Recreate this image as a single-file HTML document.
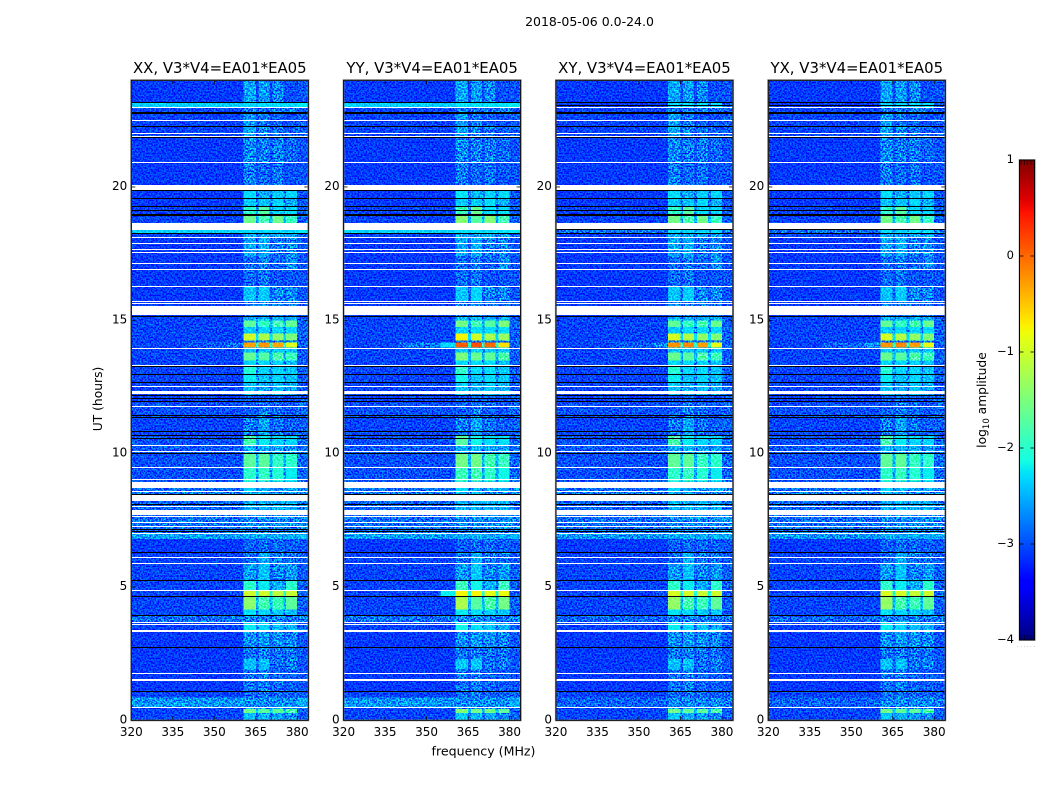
<!DOCTYPE html>
<html lang="en">
<head>
<meta charset="utf-8">
<title>2018-05-06 0.0-24.0</title>
<style>
  html, body { margin: 0; padding: 0; background: #fff; }
  svg { display: block; font-family: "DejaVu Sans", "Liberation Sans", sans-serif; }
  .tick-label { font-size: 12px; fill: #000; }
  .panel-title { font-size: 14.9px; fill: #000; text-anchor: middle; }
</style>
</head>
<body>
<svg id="chart" xmlns="http://www.w3.org/2000/svg" width="1050" height="800" viewBox="0 0 1050 800">
  <defs>
    <filter id="speckle" x="0" y="0" width="100%" height="100%" color-interpolation-filters="sRGB">
      <feTurbulence type="fractalNoise" baseFrequency="0.62" numOctaves="1" seed="7"/>
      <feColorMatrix type="matrix" values="3.4 0 0 0 -1.2  3.4 0 0 0 -1.2  3.4 0 0 0 -1.2  0 0 0 0 1"/>
    </filter>
    <linearGradient id="jet-gradient" x1="0" y1="1" x2="0" y2="0"></linearGradient>
  </defs>
  <rect x="0" y="0" width="1050" height="800" fill="#fff"/>
  <text x="589.5" y="26" font-size="12.5" text-anchor="middle">2018-05-06 0.0-24.0</text>
  <text x="483.5" y="755.5" font-size="12.6" text-anchor="middle">frequency (MHz)</text>
  <text x="102" y="399" font-size="12.3" text-anchor="middle" transform="rotate(-90 102 399)">UT (hours)</text>
  <text x="986" y="400" font-size="12.3" text-anchor="middle" transform="rotate(-90 986 400)">log<tspan font-size="8.5" dy="3">10</tspan><tspan dy="-3"> amplitude</tspan></text>
  <g id="panels"></g>
  <g id="colorbar"></g>
</svg>
<script>
// ---- categories and tick labels ----
const polarizations = ["XX", "YY", "XY", "YX"];
const panelTitles = ["XX, V3*V4=EA01*EA05", "YY, V3*V4=EA01*EA05", "XY, V3*V4=EA01*EA05", "YX, V3*V4=EA01*EA05"];
const freqTicks = [320, 335, 350, 365, 380];
const hourTicks = [0, 5, 10, 15, 20];
const colorTicks = [1, 0, -1, -2, -3, -4];
const colorTickLabels = ["1", "0", "\u22121", "\u22122", "\u22123", "\u22124"];

// ---- UT row boundaries (hours) ----
const rowEdges = [0,.27,.42,.5,.85,1.07,1.9,2.3,2.75,3.35,3.67,3.92,4.15,4.65,4.85,5.23,5.87,6.31,6.79,7.01,7.25,7.7,8.3,8.6,8.95,9.5,10,10.3,10.7,11.35,11.9,12.2,12.65,13,13.3,13.5,13.8,13.98,14.17,14.25,14.5,14.75,15,15.15,15.7,16.26,16.9,17.4,18.1,18.28,18.38,18.64,18.95,19.27,19.56,19.87,20.9,21.9,22.3,22.8,22.97,23.15,24];

// ---- log10 amplitude per row: background for co-pol (XX, YY) and cross-pol (XY, YX) ----
const backgroundCo = [-3.05,-3.05,-3.05,-2.65,-3.05,-3.1,-3.1,-3.1,-3.1,-3.05,-2.85,-3.05,-3.05,-3.05,-3.05,-3.05,-3.05,-3.1,-2.6,-2.85,-2.85,-2.9,-2.8,-2.85,-3,-3,-2.95,-3,-3.05,-3,-3.05,-3.05,-3.05,-3.05,-3.05,-3.05,-3.05,-3.05,-3.05,-3.05,-3.05,-3.05,-3.05,-3.1,-3.1,-3.1,-3.1,-3.1,-3.05,-2.35,-3.05,-3.05,-3.05,-3.1,-3.1,-3.1,-3.1,-3.05,-3.05,-3.05,-2.35,-3.1];
const backgroundCross = [-3.05,-3.05,-3.05,-2.9,-3.05,-3.1,-3.1,-3.1,-3.1,-3.05,-2.9,-3.05,-3.05,-3.05,-3.05,-3.05,-3.05,-3.1,-2.65,-2.85,-2.85,-2.9,-2.8,-2.85,-3,-3,-2.95,-3,-3.05,-3,-3.05,-3.05,-3.05,-3.05,-3.05,-3.05,-3.05,-3.05,-3.05,-3.05,-3.05,-3.05,-3.05,-3.1,-3.1,-3.1,-3.1,-3.1,-3.05,-2.85,-3.05,-3.05,-3.05,-3.1,-3.1,-3.1,-3.1,-3.05,-3.05,-3.05,-3.1,-3.1];

// ---- log10 amplitude per row in the four bright sub-bands ----
const subband1 = [-2.42,-1.6,-2.72,-2.7,-2.87,-2.82,-2.42,-2.82,-2.67,-2.22,-2.75,-2.27,-1.4,-1,-2,-2.62,-2.87,-2.92,-2.55,-2.75,-2.7,-2.5,-2.5,-2.32,-2,-1.7,-2.52,-1.85,-2.77,-2.92,-2.95,-2.42,-2.22,-2.05,-2.32,-1.65,-2.4,-0.3,-2.8,-1,-2.37,-1.7,-2.5,-2.8,-2.42,-2.87,-2.87,-2.57,-2.55,-2.3,-2.7,-1.6,-2,-2.4,-2.3,-2.77,-2.72,-2.57,-2.62,-2.8,-2.3,-2.57];
const subband2 = [-2.52,-1.7,-2.72,-2.7,-2.82,-2.77,-2.42,-2.77,-2.62,-2.32,-2.75,-2.32,-1.85,-1,-2.22,-2.42,-2.52,-2.87,-2.55,-2.75,-2.7,-2.5,-2.5,-2.52,-1.95,-1.7,-2.52,-2.22,-2.57,-2.77,-2.92,-2.52,-2.42,-2.32,-2.32,-1.75,-2.4,-0.25,-2.8,-1.2,-2.32,-1.95,-2.5,-2.8,-2.37,-2.82,-2.77,-2.52,-2.62,-2.3,-2.7,-1.85,-1.75,-2.4,-2.52,-2.87,-2.77,-2.72,-2.82,-2.8,-2.3,-2.62];
const subband3 = [-2.57,-1.7,-2.72,-2.7,-2.87,-2.87,-2.82,-2.82,-2.67,-2.42,-2.75,-2.37,-1.9,-1.1,-2.52,-2.72,-2.77,-2.87,-2.55,-2.75,-2.7,-2.5,-2.7,-2.62,-2.05,-1.95,-2.57,-2.32,-2.82,-2.87,-2.97,-2.42,-2.32,-2.32,-2.32,-1.8,-2.4,-0.35,-2.8,-1.4,-2.32,-1.85,-2.5,-2.8,-2.72,-2.97,-2.87,-2.77,-2.52,-2.3,-2.7,-1.6,-2.32,-2.32,-2.37,-2.82,-2.77,-2.82,-2.92,-2.8,-2.3,-2.72];
const subband4 = [-2.67,-1.8,-2.72,-2.7,-2.92,-2.92,-2.77,-2.82,-2.72,-2.52,-2.8,-2.42,-1.7,-1.05,-2,-2.62,-2.82,-2.92,-2.55,-2.75,-2.7,-2.5,-2.7,-2.52,-2.22,-2,-2.62,-2.32,-2.92,-2.97,-3,-2.52,-2.42,-2.42,-2.42,-1.9,-2.4,-0.9,-2.8,-1.5,-2.32,-1.65,-2.5,-2.8,-2.72,-2.97,-2.67,-2.72,-2.57,-2.3,-2.7,-1.95,-2.32,-2.52,-2.32,-2.97,-2.87,-2.92,-3,-2.8,-2.3,-3];

// ---- per-polarization brightening of strong emission (log10 at the hottest rows) ----
const polHotOffset = [0, 0.25, 0.05, 0.05];

// ---- frequency channel groups (MHz) ----
const freqEdges = [320, 340, 355, 360.5, 365, 366, 370, 371, 375, 376, 380, 384];
const freqKinds = ["bg", "bg", "bg", "b1", "gap", "b2", "gap", "b3", "gap", "b4", "edge"];

// ---- narrow interference shoulders below the bright band ----
const streakStart = [13.98, 4.65];
const streakEnd = [14.17, 4.85];
const streakShoulder = [[-2.8, -2.3, -2.7, -2.6], [-3.0, -2.2, -3.0, -3.0]];
const streakWing = [[-2.95, -2.8, -2.95, -2.9], [-3.1, -3.05, -3.1, -3.1]];

// ---- flagged (no data) time ranges, hours ----
const whiteStart = [.45,1.5,1.73,3.33,3.56,3.65,4.83,5.85,6.08,6.99,7.23,7.39,7.6,7.71,7.98,8.25,8.57,8.72,9.02,9.45,10.07,10.27,11.73,12.23,12.49,13.3,13.92,15.18,15.6,15.68,16.24,16.88,17.11,17.54,17.63,17.85,18.08,18.38,19.87,20.88,21.86,22,22.47,22.95];
const whiteEnd = [.49,1.56,1.77,3.39,3.6,3.69,4.88,5.89,6.12,7.03,7.27,7.43,7.65,7.9,8.03,8.46,8.61,8.94,9.06,9.49,10.11,10.31,11.77,12.33,12.53,13.34,13.97,15.52,15.64,15.72,16.28,16.92,17.15,17.58,17.67,17.89,18.12,18.64,20.06,20.92,21.92,22.03,22.51,22.99];
const blackStart = [1.06,2.7,3.9,4.63,5.21,6.29,7.07,7.13,8.06,8.46,9.98,10.55,10.67,10.79,11.33,11.42,11.92,12.05,12.17,12.63,12.95,13.26,15.13,18.24,18.92,19.1,19.25,19.54,19.83,21.82,22.23,22.74,23.15];
const blackEnd = [1.09,2.74,3.94,4.67,5.25,6.33,7.1,7.17,8.11,8.49,10.03,10.59,10.71,10.83,11.37,11.46,11.96,12.09,12.21,12.67,12.99,13.3,15.17,18.28,19,19.14,19.29,19.58,19.87,21.86,22.27,22.8,23.2];
const crossBlackStart = [23.04, 18.4];
const crossBlackEnd = [23.08, 18.44];

// ---- layout and axis functions ----
const NS = "http://www.w3.org/2000/svg";
const PLOT_TOP = 80.3, PLOT_H = 640, PLOT_W = 177;
const HOT_LEVEL = -1.75;
const panelsGroup = document.getElementById("panels");
const barGroup = document.getElementById("colorbar");
function panelLeft(p) { return 131.3 + 212.33 * p; }
function xScale(p, mhz) { return panelLeft(p) + (mhz - 320) / 64 * PLOT_W; }
function yScale(hour) { return PLOT_TOP + PLOT_H - hour / 24 * PLOT_H; }
function colorScale(v) { return 160 + (1 - v) / 5 * 480; }

function ramp(t, pts) {
  for (let i = 1; i < pts.length; i++) {
    if (t <= pts[i][0]) {
      const a = pts[i - 1], b = pts[i];
      return a[1] + (b[1] - a[1]) * (t - a[0]) / (b[0] - a[0]);
    }
  }
  return pts[pts.length - 1][1];
}
function jet(t) {
  t = Math.max(0, Math.min(1, t));
  const r = ramp(t, [[0, 0], [.35, 0], [.66, 1], [.89, 1], [1, .5]]);
  const g = ramp(t, [[0, 0], [.125, 0], [.375, 1], [.64, 1], [.91, 0], [1, 0]]);
  const b = ramp(t, [[0, .5], [.11, 1], [.34, 1], [.65, 0], [1, 0]]);
  return "rgb(" + Math.round(r * 255) + "," + Math.round(g * 255) + "," + Math.round(b * 255) + ")";
}
function levelColor(v) { return jet((v + 4) / 5); }
function svgEl(tag, parent) {
  const el = document.createElementNS(NS, tag);
  parent.appendChild(el);
  return el;
}
function setAll(el, attrs) { for (const k in attrs) el.setAttribute(k, attrs[k]); }

function boosted(level, p) {
  return level + polHotOffset[p] * Math.max(0, level + 2.6) / 1.6;
}
function cellLevel(p, row, kind) {
  const bg = (p < 2 ? backgroundCo : backgroundCross)[row];
  const bands = [subband1[row], subband2[row], subband3[row], subband4[row]];
  if (kind === "bg") return bg;
  if (kind === "edge") return bg + 0.12;
  if (kind === "gap") return Math.min(...bands) * 0.5 + bg * 0.5;
  return boosted(bands[Number(kind[1]) - 1], p);
}

polarizations.forEach(function (pol, p) {
  const g = svgEl("g", panelsGroup);
  
  

  // heatmap cells
  for (let row = 0; row < rowEdges.length - 1; row++) {
    for (let c = 0; c < freqKinds.length; c++) {
      const cell = svgEl("rect", g);
      
      
      setAll(cell, {
        x: xScale(p, freqEdges[c]),
        y: yScale(rowEdges[row + 1]),
        width: xScale(p, freqEdges[c + 1]) - xScale(p, freqEdges[c]),
        height: yScale(rowEdges[row]) - yScale(rowEdges[row + 1]),
        fill: levelColor(cellLevel(p, row, freqKinds[c])),
        "shape-rendering": "crispEdges"
      });
    }
  }
  // interference shoulders
  streakStart.forEach(function (start, i) {
    const shoulder = svgEl("rect", g);
    
    
    setAll(shoulder, {
      x: xScale(p, 355), y: yScale(streakEnd[i]),
      width: xScale(p, 360.5) - xScale(p, 355),
      height: yScale(start) - yScale(streakEnd[i]),
      fill: levelColor(streakShoulder[i][p]), "shape-rendering": "crispEdges"
    });
    const wing = svgEl("rect", g);
    
    
    setAll(wing, {
      x: xScale(p, 340), y: yScale(streakEnd[i]),
      width: xScale(p, 355) - xScale(p, 340),
      height: yScale(start) - yScale(streakEnd[i]),
      fill: levelColor(streakWing[i][p]), "shape-rendering": "crispEdges"
    });
  });
  // fine speckle texture over the cells
  const speck = svgEl("rect", g);
  
  
  setAll(speck, {
    x: panelLeft(p), y: PLOT_TOP, width: PLOT_W, height: PLOT_H,
    filter: "url(#speckle)", style: "mix-blend-mode:overlay"
  });
  // strong emission stays smooth: redraw those cells mostly over the texture
  for (let row = 0; row < rowEdges.length - 1; row++) {
    for (let c = 0; c < freqKinds.length; c++) {
      const level = cellLevel(p, row, freqKinds[c]);
      if (freqKinds[c][0] !== "b" || freqKinds[c] === "bg" || level < HOT_LEVEL) continue;
      const hot = svgEl("rect", g);
      
      
      setAll(hot, {
        x: xScale(p, freqEdges[c]),
        y: yScale(rowEdges[row + 1]),
        width: xScale(p, freqEdges[c + 1]) - xScale(p, freqEdges[c]),
        height: yScale(rowEdges[row]) - yScale(rowEdges[row + 1]),
        fill: levelColor(level),
        opacity: 0.8,
        "shape-rendering": "crispEdges"
      });
    }
  }
  // flagged rows
  function drawFlag(start, end, color) {
    const flag = svgEl("rect", g);
    
    
    setAll(flag, {
      x: panelLeft(p), y: Math.round(yScale(end)), width: PLOT_W,
      height: Math.max(1, Math.round(yScale(start) - yScale(end))),
      fill: color, "shape-rendering": "crispEdges"
    });
  }
  whiteStart.forEach(function (s, i) { drawFlag(s, whiteEnd[i], "#fff"); });
  blackStart.forEach(function (s, i) { drawFlag(s, blackEnd[i], "#000"); });
  if (p >= 2) crossBlackStart.forEach(function (s, i) { drawFlag(s, crossBlackEnd[i], "#000"); });

  // ticks
  freqTicks.forEach(function (f) {
    const x = xScale(p, f);
    const bottom = svgEl("line", g);
    
    
    setAll(bottom, { x1: x, x2: x, y1: PLOT_TOP + PLOT_H, y2: PLOT_TOP + PLOT_H - 4, stroke: "#000", "stroke-width": 0.8 });
    const top = svgEl("line", g);
    
    
    setAll(top, { x1: x, x2: x, y1: PLOT_TOP, y2: PLOT_TOP + 4, stroke: "#000", "stroke-width": 0.8 });
    const label = svgEl("text", g);
    
    
    setAll(label, { x: x, y: 736, "text-anchor": "middle", "class": "tick-label" });
    label.textContent = String(f);
  });
  hourTicks.forEach(function (h) {
    const y = yScale(h);
    const left = svgEl("line", g);
    
    
    setAll(left, { x1: panelLeft(p), x2: panelLeft(p) + 4, y1: y, y2: y, stroke: "#000", "stroke-width": 0.8 });
    const right = svgEl("line", g);
    
    
    setAll(right, { x1: panelLeft(p) + PLOT_W, x2: panelLeft(p) + PLOT_W - 4, y1: y, y2: y, stroke: "#000", "stroke-width": 0.8 });
    const label = svgEl("text", g);
    
    
    setAll(label, { x: panelLeft(p) - 4, y: y + 3, "text-anchor": "end", "class": "tick-label" });
    label.textContent = String(h);
  });

  // frame
  const halo = svgEl("rect", g);
  
  
  setAll(halo, { x: panelLeft(p) - 0.2, y: PLOT_TOP - 0.2, width: PLOT_W + 0.4, height: PLOT_H + 0.4, fill: "none", stroke: "#aaa", "stroke-width": 1.8 });
  const frame = svgEl("rect", g);
  
  
  setAll(frame, { x: panelLeft(p), y: PLOT_TOP, width: PLOT_W, height: PLOT_H, fill: "none", stroke: "#000", "stroke-width": 1 });

  // title
  const title = svgEl("text", g);
  
  
  setAll(title, { x: panelLeft(p) + PLOT_W / 2, y: 73, "class": "panel-title" });
  title.textContent = panelTitles[p];
});

// ---- colorbar ----
const gradient = document.getElementById("jet-gradient");
for (let i = 0; i <= 64; i++) {
  const stop = svgEl("stop", gradient);
  stop.setAttribute("offset", (i / 64 * 100) + "%");
  stop.setAttribute("stop-color", jet(i / 64));
}
const barHalo = svgEl("rect", barGroup);


setAll(barHalo, { x: 1019.3, y: 160, width: 16, height: 480, fill: "none", stroke: "#bbb", "stroke-width": 1.6 });
const barFill = svgEl("rect", barGroup);


setAll(barFill, { x: 1019.5, y: 160, width: 15, height: 480, fill: "url(#jet-gradient)", stroke: "#000", "stroke-width": 1 });
colorTicks.forEach(function (v, i) {
  const y = colorScale(v);
  const tl = svgEl("line", barGroup);
  
  
  setAll(tl, { x1: 1019.5, x2: 1023.5, y1: y, y2: y, stroke: "#000", "stroke-width": 0.8 });
  const tr = svgEl("line", barGroup);
  
  
  setAll(tr, { x1: 1034.5, x2: 1030.5, y1: y, y2: y, stroke: "#000", "stroke-width": 0.8 });
  const label = svgEl("text", barGroup);
  
  
  setAll(label, { x: 1014, y: y + 3, "text-anchor": "end", "class": "tick-label" });
  label.style.fontSize = "11.5px";
  label.textContent = colorTickLabels[i];
});
[0, 1, 2, 3, 4].forEach(function (k) {
  const x = 1021 + k * 3.3;
  const top = svgEl("line", barGroup);
  
  
  setAll(top, { x1: x, x2: x, y1: 160, y2: 165, stroke: "#000", "stroke-width": 0.6 });
  const bottom = svgEl("line", barGroup);
  
  
  setAll(bottom, { x1: x, x2: x, y1: 640, y2: 635, stroke: "#000", "stroke-width": 0.6 });
});
const dots = svgEl("text", barGroup);


setAll(dots, { x: 1017, y: 647, "font-size": "5", "letter-spacing": "1.7", fill: "#777" });
dots.textContent = "......";
</script>
</body>
</html>
